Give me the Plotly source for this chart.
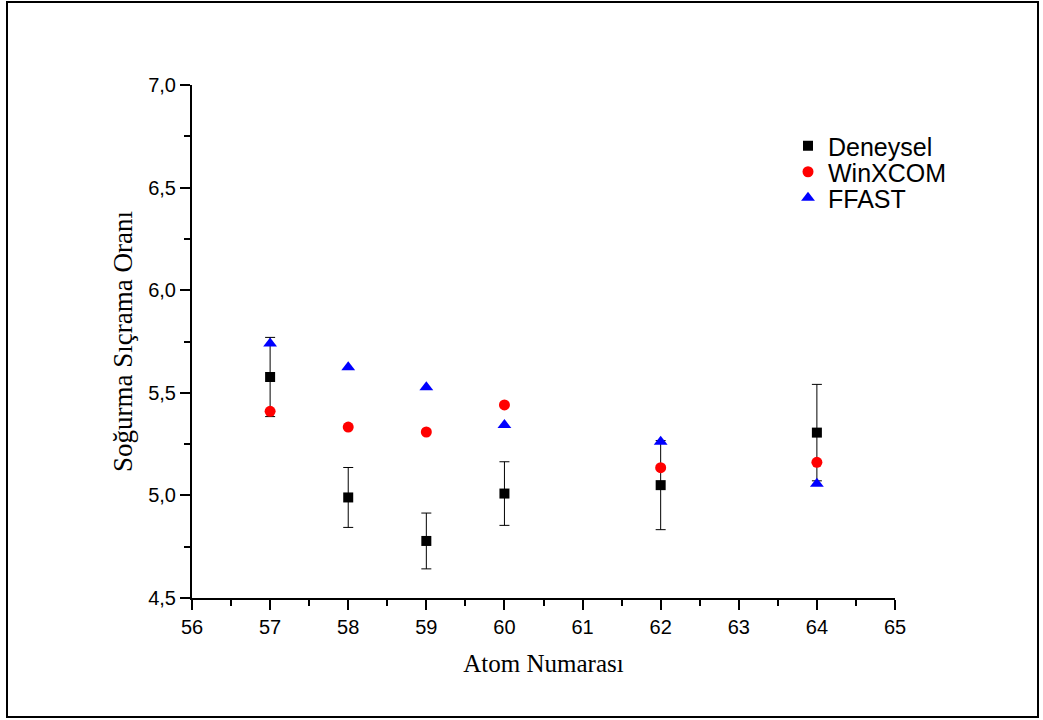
import plotly.graph_objects as go

atom = [57, 58, 59, 60, 62, 64]
deneysel = [5.577, 4.990, 4.778, 5.009, 5.050, 5.306]
deneysel_err = [0.193, 0.146, 0.136, 0.155, 0.217, 0.235]
winxcom = [5.410, 5.333, 5.309, 5.441, 5.135, 5.161]
ffast = [5.740, 5.625, 5.527, 5.343, 5.262, 5.057]

x_ticks = list(range(56, 66))
y_ticks = [4.5, 5.0, 5.5, 6.0, 6.5, 7.0]

W, H = 1043, 720
ML, MR, MT, MB = 192, 148, 85, 122
pw, ph = W - ML - MR, H - MT - MB


def px_x(p):
    return (p - ML) / pw


def px_y(p):
    return (H - MB - p) / ph


fig = go.Figure()
fig.add_trace(go.Scatter(
    x=atom, y=deneysel, mode="markers", name="Deneysel", legend="legend",
    marker=dict(symbol="square", size=10, color="black"),
    error_y=dict(type="data", array=deneysel_err, visible=True,
                 color="black", thickness=1, width=5),
))
fig.add_trace(go.Scatter(
    x=atom, y=winxcom, mode="markers", name="WinXCOM", legend="legend2",
    marker=dict(symbol="circle", size=11, color="#ff0000"),
))
fig.add_trace(go.Scatter(
    x=atom, y=ffast, mode="markers", name="FFAST", legend="legend3",
    marker=dict(symbol="triangle-up", size=12, color="#0000ff"),
))

fig.add_shape(type="rect", xref="paper", yref="paper",
              x0=px_x(7), x1=px_x(1038), y0=px_y(2), y1=px_y(717),
              line=dict(color="black", width=2), fillcolor="rgba(0,0,0,0)")

axis_font = dict(family="Liberation Sans, Arial", size=20, color="black")
xtitle_font = dict(family="Liberation Serif, Times New Roman", size=25, color="black")
ytitle_font = dict(family="Liberation Serif, Times New Roman", size=27, color="black")
leg_font = dict(family="Liberation Sans, Arial", size=25, color="black")


def leg(ycen):
    return dict(x=px_x(788), y=px_y(ycen), xanchor="left", yanchor="middle",
                font=leg_font, bgcolor="rgba(0,0,0,0)", borderwidth=0)


fig.update_layout(
    width=W, height=H,
    margin=dict(l=ML, r=MR, t=MT, b=MB),
    paper_bgcolor="white", plot_bgcolor="white",
    separators=",.",
    showlegend=True,
    legend=leg(146),
    legend2=leg(172),
    legend3=leg(198),
    xaxis=dict(
        range=[56, 65], tickvals=x_ticks, ticktext=[str(v) for v in x_ticks],
        showgrid=False, zeroline=False, showline=True, linecolor="black", linewidth=2,
        ticks="outside", ticklen=10, tickwidth=2, tickcolor="black",
        tickfont=axis_font,
        minor=dict(dtick=0.5, tick0=56, ticks="outside", ticklen=6, tickwidth=2,
                   tickcolor="black", showgrid=False),
        title=dict(text="Atom Numarası", font=xtitle_font, standoff=17),
    ),
    yaxis=dict(
        range=[4.5, 7.0], tickvals=y_ticks, tickformat=".1f",
        showgrid=False, zeroline=False, showline=True, linecolor="black", linewidth=2,
        ticks="outside", ticklen=10, tickwidth=2, tickcolor="black",
        tickfont=axis_font,
        minor=dict(dtick=0.25, tick0=4.5, ticks="outside", ticklen=6, tickwidth=2,
                   tickcolor="black", showgrid=False),
        title=dict(text="Soğurma Sıçrama Oranı", font=ytitle_font, standoff=8),
    ),
)

fig.write_html("out.html")
